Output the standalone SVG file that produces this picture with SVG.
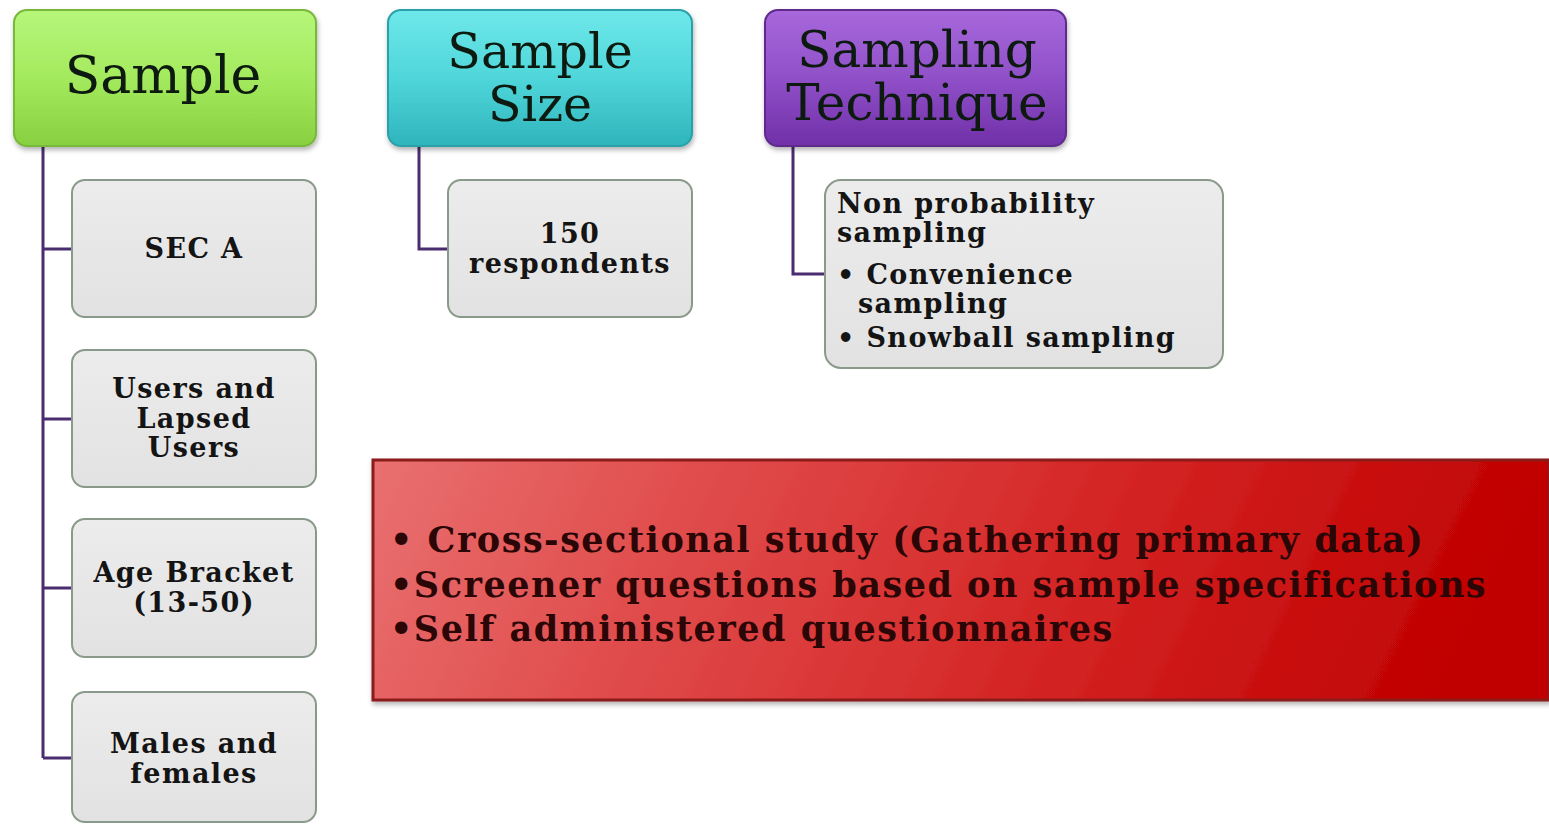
<svg xmlns="http://www.w3.org/2000/svg" width="1549" height="825" viewBox="0 0 1549 825">
<style>
.title{font-family:"DejaVu Serif","Liberation Serif",serif;font-weight:normal;fill:#0d1a10;text-anchor:middle}
.child{font-family:"DejaVu Serif","Liberation Serif",serif;font-weight:bold;fill:#141414;font-size:27px;letter-spacing:1.4px}
.childbox{fill:url(#gGray);stroke:#8a9a8a;stroke-width:2}
.conn{fill:none;stroke:#4a2d6e;stroke-width:3}
.red{font-family:"DejaVu Serif","Liberation Serif",serif;font-weight:bold;fill:#2a0606;font-size:35px;letter-spacing:1.5px}
</style>
<defs>
<linearGradient id="gGreen" x1="0" y1="0" x2="0" y2="1">
<stop offset="0" stop-color="#b6f67a"/><stop offset="0.5" stop-color="#a4ea5e"/><stop offset="1" stop-color="#88d040"/>
</linearGradient>
<linearGradient id="gCyan" x1="0" y1="0" x2="0" y2="1">
<stop offset="0" stop-color="#6ee8ea"/><stop offset="0.5" stop-color="#4fd6da"/><stop offset="1" stop-color="#2fb4bc"/>
</linearGradient>
<linearGradient id="gPurple" x1="0" y1="0" x2="0" y2="1">
<stop offset="0" stop-color="#a868dc"/><stop offset="0.5" stop-color="#9050c8"/><stop offset="1" stop-color="#7030a8"/>
</linearGradient>
<linearGradient id="gGray" x1="0" y1="0" x2="0" y2="1">
<stop offset="0" stop-color="#ececec"/><stop offset="1" stop-color="#e2e2e2"/>
</linearGradient>
<linearGradient id="gRed" x1="0" y1="0" x2="1" y2="0.1">
<stop offset="0" stop-color="#e97070"/><stop offset="0.3" stop-color="#e04a4a"/><stop offset="0.65" stop-color="#d42424"/><stop offset="1" stop-color="#c00000"/>
</linearGradient>
<filter id="sh" x="-5%" y="-5%" width="110%" height="115%">
<feDropShadow dx="1" dy="3" stdDeviation="2.5" flood-color="#000" flood-opacity="0.3"/>
</filter>
</defs>
<rect width="1549" height="825" fill="#ffffff"/>

<g id="connectors">
<path class="conn" d="M43,146 V758"/>
<path class="conn" d="M43,249 H72"/>
<path class="conn" d="M43,419 H72"/>
<path class="conn" d="M43,588 H72"/>
<path class="conn" d="M43,758 H72"/>
<path class="conn" d="M419,146 V249 H448"/>
<path class="conn" d="M793,146 V274 H825"/>
</g>

<g id="node-sample">
<rect x="14" y="10" width="302" height="136" rx="13" fill="url(#gGreen)" stroke="#78b83a" stroke-width="2" filter="url(#sh)"/>
<text class="title" x="163" y="93" font-size="52">Sample</text>
</g>

<g id="node-sample-size">
<rect x="388" y="10" width="304" height="136" rx="13" fill="url(#gCyan)" stroke="#2aa0a8" stroke-width="2" filter="url(#sh)"/>
<text class="title" x="540" y="68" font-size="49">Sample</text>
<text class="title" x="540" y="121" font-size="49">Size</text>
</g>

<g id="node-sampling-technique">
<rect x="765" y="10" width="301" height="136" rx="13" fill="url(#gPurple)" stroke="#5e2a8c" stroke-width="2" filter="url(#sh)"/>
<text class="title" x="917" y="67" font-size="50" fill="#1a0a28">Sampling</text>
<text class="title" x="917" y="120" font-size="50" fill="#1a0a28">Technique</text>
</g>

<g id="node-sec-a">
<rect class="childbox" x="72" y="180" width="244" height="137" rx="13"/>
<text class="child" x="194" y="258" text-anchor="middle">SEC A</text>
</g>

<g id="node-users">
<rect class="childbox" x="72" y="350" width="244" height="137" rx="13"/>
<text class="child" x="194" y="398" text-anchor="middle">Users and</text>
<text class="child" x="194" y="428" text-anchor="middle">Lapsed</text>
<text class="child" x="194" y="457" text-anchor="middle">Users</text>
</g>

<g id="node-age">
<rect class="childbox" x="72" y="519" width="244" height="138" rx="13"/>
<text class="child" x="194" y="582" text-anchor="middle">Age Bracket</text>
<text class="child" x="194" y="612" text-anchor="middle">(13-50)</text>
</g>

<g id="node-males">
<rect class="childbox" x="72" y="692" width="244" height="130" rx="13"/>
<text class="child" x="194" y="753" text-anchor="middle">Males and</text>
<text class="child" x="194" y="783" text-anchor="middle">females</text>
</g>

<g id="node-respondents">
<rect class="childbox" x="448" y="180" width="244" height="137" rx="13"/>
<text class="child" x="570" y="243" text-anchor="middle">150</text>
<text class="child" x="570" y="273" text-anchor="middle">respondents</text>
</g>

<g id="node-non-probability">
<rect class="childbox" x="825" y="180" width="398" height="188" rx="16"/>
<text class="child" x="837" y="213">Non probability</text>
<text class="child" x="837" y="242">sampling</text>
<text class="child" x="837" y="284">• Convenience</text>
<text class="child" x="858" y="313">sampling</text>
<text class="child" x="837" y="347">• Snowball sampling</text>
</g>

<g id="node-study">
<rect x="373" y="460" width="1176" height="240" fill="url(#gRed)" stroke="#8a1c1c" stroke-width="3" filter="url(#sh)"/>
<text class="red" x="390" y="552">• Cross-sectional study (Gathering primary data)</text>
<text class="red" x="390" y="597">•Screener questions based on sample specifications</text>
<text class="red" x="390" y="641">•Self administered questionnaires</text>
</g>
</svg>
